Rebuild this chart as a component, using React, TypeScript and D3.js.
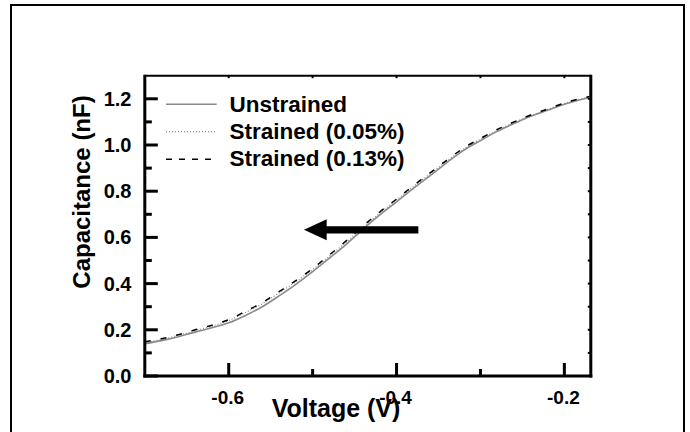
import React from "react";
import * as d3 from "d3";

const VOLTAGE = [-0.70, -0.68, -0.66, -0.64, -0.62, -0.60, -0.58, -0.56, -0.54, -0.52, -0.50, -0.48, -0.46, -0.44, -0.42, -0.40, -0.38, -0.36, -0.34, -0.32, -0.30, -0.28, -0.26, -0.24, -0.22, -0.20, -0.18, -0.17];
const UNSTRAINED = [0.140, 0.153, 0.170, 0.190, 0.209, 0.230, 0.262, 0.300, 0.347, 0.397, 0.452, 0.510, 0.570, 0.635, 0.697, 0.754, 0.812, 0.867, 0.924, 0.977, 1.019, 1.059, 1.093, 1.124, 1.150, 1.176, 1.197, 1.206];
const STRAINED_005 = [0.145, 0.158, 0.176, 0.196, 0.216, 0.240, 0.275, 0.313, 0.360, 0.408, 0.461, 0.519, 0.580, 0.644, 0.705, 0.762, 0.820, 0.875, 0.931, 0.983, 1.025, 1.064, 1.097, 1.127, 1.154, 1.180, 1.200, 1.208];
const STRAINED_013 = [0.148, 0.161, 0.179, 0.200, 0.220, 0.244, 0.280, 0.318, 0.365, 0.413, 0.465, 0.524, 0.585, 0.649, 0.710, 0.766, 0.824, 0.879, 0.935, 0.987, 1.028, 1.067, 1.100, 1.130, 1.156, 1.182, 1.202, 1.210];

const SERIES_NAMES = ["Unstrained", "Strained (0.05%)", "Strained (0.13%)"];

const X_DOMAIN = [-0.7, -0.1685];
const Y_DOMAIN = [0, 1.3];
const X_MAJOR = [-0.6, -0.4, -0.2];
const X_MINOR = [-0.5, -0.3];
const X_TICK_LABELS = ["-0.6", "-0.4", "-0.2"];
const X_SMALL = [-0.6, -0.5, -0.4, -0.3, -0.2];
const Y_MAJOR = [0, 0.2, 0.4, 0.6, 0.8, 1.0, 1.2];
const Y_MINOR = [0.1, 0.3, 0.5, 0.7, 0.9, 1.1];
const Y_TICK_LABELS = ["0.0", "0.2", "0.4", "0.6", "0.8", "1.0", "1.2"];
const Y_SMALL = [0.1, 0.2, 0.3, 0.4, 0.5, 0.6, 0.7, 0.8, 0.9, 1.0, 1.1, 1.2];

// arrow annotation in data coords: tail -> tip
const ARROW_TAIL = [-0.374, 0.633];
const ARROW_TIP = [-0.5103, 0.633];

const FONT = "'Liberation Sans', Arial, Helvetica, sans-serif";

export default function App() {
  const left = 144.8, right = 590.8, top = 75.7, bottom = 376;
  const x = d3.scaleLinear().domain(X_DOMAIN).range([left, right]);
  const y = d3.scaleLinear().domain(Y_DOMAIN).range([bottom, top]);

  const mk = (vals: number[]) =>
    d3
      .line<number>()
      .x((_, i) => x(VOLTAGE[i]))
      .y((v) => y(v))
      .curve(d3.curveMonotoneX)(vals) as string;

  const series = [
    { name: SERIES_NAMES[0], vals: UNSTRAINED, stroke: "#8a8a8a", width: 1.6, dash: "none" },
    { name: SERIES_NAMES[1], vals: STRAINED_005, stroke: "#8a8a8a", width: 1.2, dash: "1,2" },
    { name: SERIES_NAMES[2], vals: STRAINED_013, stroke: "#000", width: 1.5, dash: "6,10" },
  ];

  const tipX = x(ARROW_TIP[0]);
  const tailX = x(ARROW_TAIL[0]);
  const ay = y(ARROW_TIP[1]);
  const headLen = 22.7;
  const headHalf = 10.5;
  const shaftHalf = 3.6;
  const arrowPath = `M${tipX},${ay} L${tipX + headLen},${ay - headHalf} L${tipX + headLen},${ay - shaftHalf} L${tailX},${ay - shaftHalf} L${tailX},${ay + shaftHalf} L${tipX + headLen},${ay + shaftHalf} L${tipX + headLen},${ay + headHalf} Z`;

  const legendY = [104.3, 131.7, 159.3];
  const legendText = [112, 139, 166];

  return (
    <svg
      width={690}
      height={432}
      style={{ position: "fixed", left: 0, top: 0, background: "#fff" }}
      fontFamily={FONT}
    >
      <rect x={0} y={0} width={690} height={432} fill="#fff" />
      <rect x={11} y={5} width={673} height={440} fill="none" stroke="#000" strokeWidth={2} />

      <defs>
        <clipPath id="plotclip">
          <rect x={left} y={top} width={right - left} height={bottom - top} />
        </clipPath>
      </defs>

      {/* curves */}
      <g clipPath="url(#plotclip)">
        {series.map((s) => (
          <path
            key={s.name}
            d={mk(s.vals)}
            fill="none"
            stroke={s.stroke}
            strokeWidth={s.width}
            strokeDasharray={s.dash}
          />
        ))}
      </g>

      {/* axes frame */}
      <line x1={left} x2={right} y1={top} y2={top} stroke="#000" strokeWidth={2} />
      <line x1={right} x2={right} y1={top - 1} y2={bottom + 1.5} stroke="#000" strokeWidth={3} />
      <line x1={left} x2={left} y1={top - 1} y2={bottom + 1.5} stroke="#000" strokeWidth={3} />
      <line x1={left - 1.5} x2={right + 1.5} y1={bottom} y2={bottom} stroke="#000" strokeWidth={3} />

      {/* ticks */}
      {Y_MAJOR.map((v) => (
        <line key={"ym" + v} x1={left} x2={left + 13} y1={y(v)} y2={y(v)} stroke="#000" strokeWidth={3} />
      ))}
      {Y_MINOR.map((v) => (
        <line key={"yn" + v} x1={left} x2={left + 7} y1={y(v)} y2={y(v)} stroke="#000" strokeWidth={3} />
      ))}
      {X_MAJOR.map((v) => (
        <line key={"xm" + v} x1={x(v)} x2={x(v)} y1={bottom} y2={bottom - 13} stroke="#000" strokeWidth={3} />
      ))}
      {X_MINOR.map((v) => (
        <line key={"xn" + v} x1={x(v)} x2={x(v)} y1={bottom} y2={bottom - 7} stroke="#000" strokeWidth={3} />
      ))}
      {Y_SMALL.map((v) => (
        <line key={"yr" + v} x1={right} x2={right - 3} y1={y(v)} y2={y(v)} stroke="#000" strokeWidth={2} />
      ))}
      {X_SMALL.map((v) => (
        <line key={"xt" + v} x1={x(v)} x2={x(v)} y1={top} y2={top + 2.5} stroke="#000" strokeWidth={2} />
      ))}

      {/* tick labels */}
      {Y_MAJOR.map((v, i) => (
        <text
          key={"yl" + v}
          x={131.5}
          y={y(v) + 7}
          textAnchor="end"
          fontSize={20}
          fontWeight="bold"
          fill="#000"
        >
          {Y_TICK_LABELS[i]}
        </text>
      ))}
      {X_MAJOR.map((v, i) => (
        <text
          key={"xl" + v}
          x={x(v) - 1}
          y={403.5}
          textAnchor="middle"
          fontSize={19}
          fontWeight="bold"
          fill="#000"
        >
          {X_TICK_LABELS[i]}
        </text>
      ))}

      {/* axis titles */}
      <text x={336} y={416.5} textAnchor="middle" fontSize={25} fontWeight="bold" fill="#000">
        Voltage (V)
      </text>
      <text
        transform={`translate(89.5,192) rotate(-90)`}
        textAnchor="middle"
        fontSize={24}
        fontWeight="bold"
        fill="#000"
      >
        Capacitance (nF)
      </text>

      {/* legend */}
      {series.map((s, i) => (
        <g key={"lg" + s.name}>
          <line
            x1={166}
            x2={216.7}
            y1={legendY[i]}
            y2={legendY[i]}
            stroke={s.stroke}
            strokeWidth={s.width}
            strokeDasharray={i === 2 ? "6,7" : s.dash}
          />
          <text x={229.5} y={legendText[i]} fontSize={22.5} fontWeight="bold" fill="#000">
            {s.name}
          </text>
        </g>
      ))}

      {/* arrow */}
      <path d={arrowPath} fill="#000" />
    </svg>
  );
}
